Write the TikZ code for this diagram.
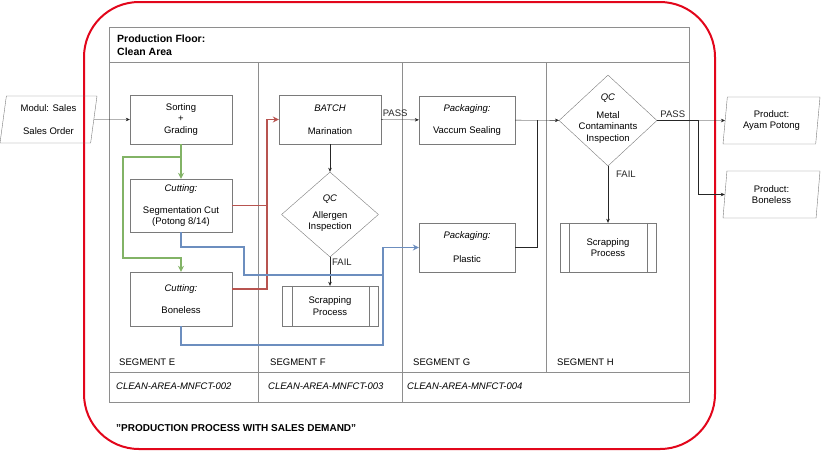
\documentclass[tikz,border=0pt]{standalone}
\usepackage{fontspec}
\setmainfont{Liberation Sans}
\usetikzlibrary{shapes.geometric,arrows.meta,calc}
\definecolor{framered}{HTML}{E2061B}
\definecolor{lanegray}{HTML}{8E8E8E}
\definecolor{boxgray}{HTML}{7A7A7A}
\definecolor{flowgreen}{HTML}{82B366}
\definecolor{flowred}{HTML}{B85450}
\definecolor{flowblue}{HTML}{6C8EBF}
\newcommand{\smallfont}{\fontsize{9.5}{11.5}\selectfont}

\begin{document}
\begin{tikzpicture}[x=1pt,y=-1pt,
		every node/.style={font=\smallfont,align=center,inner sep=0pt},
		box/.style={draw=boxgray,minimum width=102pt,minimum height=49pt},
		subproc/.style={draw=boxgray,minimum width=96pt},
		decision/.style={draw=boxgray,diamond},
		data/.style={draw=boxgray,trapezium,trapezium left angle=78,trapezium right angle=102,
			trapezium stretches body,minimum width=97pt,minimum height=47pt},
		conn/.style={black!85,-{Stealth[length=4pt,width=3.5pt]}},
		flow/.style={line width=1.8pt},
		flowtip/.style={flow,-{Stealth[length=6pt,width=6pt]}}]
	\useasboundingbox (0,0) rectangle (821,451);
	\begin{scope}
		\draw[framered,line width=2pt,rounded corners=55pt] (84,2) rectangle (715,449);
		\draw[lanegray] (109,27) rectangle (689,402);
		\draw[lanegray] (109,62) -- (689,62);
		\draw[lanegray] (109,372) -- (689,372);
		\draw[lanegray] (258,62) -- (258,402);
		\draw[lanegray] (402,62) -- (402,402);
		\draw[lanegray] (546,62) -- (546,372);
		\node[anchor=north west,align=left,font=\fontsize{10.5}{13}\selectfont\bfseries] (floor) at (117,34.3) {Production Floor:\\Clean Area};
		\foreach \x/\s in {119/E,270/F,413/G,557/H}
			\node[anchor=base west] (segment\s) at (\x,365.5) {SEGMENT \s};
		\node[anchor=base west] (area2) at (116,389.5) {\textit{CLEAN-AREA-MNFCT-002}};
		\node[anchor=base west] (area3) at (268,389.5) {\textit{CLEAN-AREA-MNFCT-003}};
		\node[anchor=base west] (area4) at (407,389.5) {\textit{CLEAN-AREA-MNFCT-004}};
		\node[anchor=base west,font=\fontsize{10}{12}\selectfont\bfseries] (title) at (116,431.5) {"PRODUCTION PROCESS WITH SALES DEMAND"};
	\end{scope}

	\node[data] (sales) at (48.5,119.5) {Modul: Sales\\[11.5pt]Sales Order};
	\node[box] (sort) at (181,119.5) {Sorting\\+\\Grading};
	\node[box,minimum height=53pt] (seg) at (181,205.5) {\textit{Cutting:}\\[10.5pt]Segmentation Cut\\(Potong 8/14)};
	\node[box,minimum height=54pt] (bone) at (181,299) {\textit{Cutting:}\\[10.5pt]Boneless};
	\node[box] (mar) at (330,119.5) {\textit{BATCH}\\[11.5pt]Marination};
	\node[decision,minimum width=97pt,minimum height=85pt] (qca) at (330,214.5) {};
	\node (qcatext) at (330,213) {\textit{QC}\\[5.5pt]Allergen\\Inspection};
	\node[subproc,minimum height=40pt] (scrf) at (330,306) {Scrapping\\Process};
	\draw[boxgray] ($(scrf.north west)+(10,0)$) -- ($(scrf.south west)+(10,0)$);
	\draw[boxgray] ($(scrf.north east)+(-9,0)$) -- ($(scrf.south east)+(-9,0)$);
	\node[box,minimum width=96pt,minimum height=48pt] (vac) at (467,120) {\textit{Packaging:}\\[10.5pt]Vaccum Sealing};
	\node[box,minimum width=96pt] (pla) at (467,247.5) {\textit{Packaging:}\\[12.5pt]Plastic};
	\node[decision,minimum width=98pt,minimum height=91pt] (qcm) at (608,120.5) {};
	\node (qcmtext) at (608,118.5) {\textit{QC}\\[6.5pt]Metal\\Contaminants\\Inspection};
	\node[subproc,minimum height=49pt] (scrh) at (608,247.5) {Scrapping\\Process};
	\draw[boxgray] ($(scrh.north west)+(9,0)$) -- ($(scrh.south west)+(9,0)$);
	\draw[boxgray] ($(scrh.north east)+(-9,0)$) -- ($(scrh.south east)+(-9,0)$);
	\node[data] (ayam) at (771.5,120.5) {Product:\\Ayam Potong};
	\node[data] (bonp) at (771.5,194.5) {Product:\\Boneless};

	\draw[conn] (sales) -- (sort);
	\draw[conn] (mar) -- (qca);
	\draw[conn] (qca.south) -- node[pos=0.17,right=2pt] (failf) {FAIL} (scrf.north);
	\draw[conn] (mar) -- node[pos=0.37,above=3pt] (passf) {PASS} (vac);
	\draw[conn] (vac) -- (qcm);
	\draw[black!85] (pla.east) -| ($(vac.east)+(22,0)$);
	\draw[conn] (qcm.east) -- node[pos=0.23,above=3pt] (passh) {PASS} (ayam);
	\draw[conn] (qcm.east) -- ++(41,0) |- (bonp);
	\draw[conn] (qcm.south) -- node[pos=0.14,right=8pt] (failh) {FAIL} (scrh.north);

	\draw[flowtip,flowgreen] (sort.south) -- (seg.north);
	\draw[flowtip,flowgreen] (sort.south) -- ++(0,13) -| (123,258) -| (bone.north);
	\draw[flow,flowred] ($(bone.east)+(0,-10)$) -- ++(35,0) |- (seg.east);
	\draw[flowtip,flowred] ($(seg.east)+(35,0)$) |- (mar.west);
	\draw[flowtip,flowblue] (seg.south) |- (244,247) |- (383,275) |- (pla.west);
	\draw[flow,flowblue] (bone.south) |- (383,345) -- (383,275);
\end{tikzpicture}
\end{document}
